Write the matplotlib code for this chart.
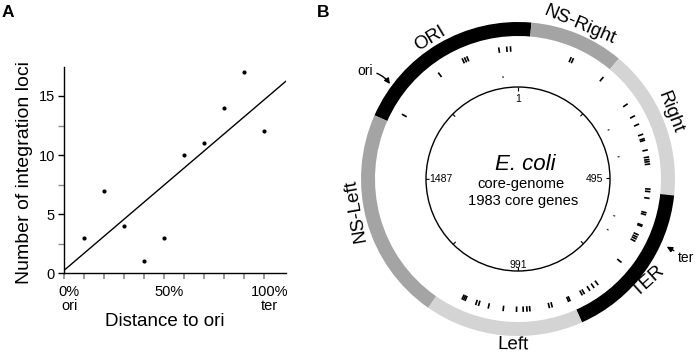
import numpy as np
import matplotlib
matplotlib.use('Agg')
import matplotlib.pyplot as plt
from matplotlib.patches import Wedge, Circle
from matplotlib.collections import LineCollection
from matplotlib.transforms import ScaledTranslation

plt.rcParams['font.family'] = ['Liberation Sans', 'DejaVu Sans']

# ---------------- Panel A data ----------------
distance_pct = [10, 20, 30, 40, 50, 60, 70, 80, 90, 100]
loci_counts = [3, 7, 4, 1, 3, 10, 11, 14, 17, 12]
xtick_vals = [0, 50, 100]
xtick_labels = ['0%\nori', '50%', '100%\nter']
ytick_vals = [0, 5, 10, 15]
ytick_labels = ['0', '5', '10', '15']

# ---------------- Panel B data ----------------
n_core_genes = 1983
region_names = ['ORI', 'NS-Right', 'Right', 'TER', 'Left', 'NS-Left']
region_start = [1620, 28, 221, 530, 860, 1185]
region_end = [2011, 221, 530, 860, 1185, 1620]
region_colors = ['#000000', '#a4a4a4', '#d4d4d4', '#000000', '#d4d4d4', '#a4a4a4']
region_label_gene = [1808, 122, 367, 706, 1002, 1428]
region_label_rot = [31, -23, -69, 42, -1, 100]

locus_genes = [1649, 1781, 1847, 1853, 1859, 1938, 1957, 1966,
               131, 137, 221,
               307, 340, 362, 388, 399, 403, 427, 444, 450, 455, 461, 521, 527,
               543, 578, 583, 609, 612, 634, 640, 645, 651, 711, 788, 800, 812,
               827, 833, 865, 869,
               910, 917, 964, 971, 980, 996, 1028, 1064, 1088, 1095, 1122, 1126, 1130]
inner_dot_genes = [1938, 340, 428, 612, 659]
scale_ticks = [1, 248, 495, 743, 991, 1239, 1487, 1735]
scale_label_genes = [1, 495, 991, 1487]
scale_label_text = ['1', '495', '991', '1487']


def gene_deg(g):
    return (g - 1) / n_core_genes * 360.0


def polar(r, deg):
    a = np.deg2rad(deg)
    return r * np.sin(a), r * np.cos(a)


W, H = 700, 359
fig = plt.figure(figsize=(W / 100, H / 100), dpi=100)

# ---------------- Panel B ----------------
axB = fig.add_axes([0, 0, 1, 1])
cx, cy = 518, 179
axB.set_xlim(-cx, W - cx)
axB.set_ylim(-(H - cy), cy)
axB.axis('off')

R_out, ring_w = 157, 14
for name, s, e, c in zip(region_names, region_start, region_end, region_colors):
    a0, a1 = gene_deg(s), gene_deg(e)
    axB.add_patch(Wedge((0, 0), R_out, 90 - a1, 90 - a0, width=ring_w,
                        facecolor=c, edgecolor='none'))

label_r = [166, 166, 166, 166, 166, 165]
for name, g, rot, r in zip(region_names, region_label_gene, region_label_rot, label_r):
    d = gene_deg(g) % 360
    x, y = polar(r, d)
    axB.text(x, y, name, fontsize=13.5, rotation=rot, rotation_mode='anchor',
             ha='center', va='center')

segs = []
for g in locus_genes:
    d = gene_deg(g)
    segs.append([polar(127.5, d), polar(133, d)])
axB.add_collection(LineCollection(segs, colors='black', linewidths=1.2, capstyle='butt'))

dots = []
for g in inner_dot_genes:
    d = gene_deg(g)
    dots.append([polar(102, d), polar(104, d)])
axB.add_collection(LineCollection(dots, colors='#333333', linewidths=0.9, capstyle='butt'))

R_in = 92
axB.add_patch(Circle((0, 0), R_in, fill=False, lw=1.0, edgecolor='black'))
tk = []
for g in scale_ticks:
    d = gene_deg(g)
    tk.append([polar(R_in, d), polar(R_in - 3.5, d)])
axB.add_collection(LineCollection(tk, colors='black', linewidths=0.8))

lab_r = [80.5, 85, 86.5, 89]
lab_ha = ['center', 'right', 'center', 'left']
for g, t, r, ha in zip(scale_label_genes, scale_label_text, lab_r, lab_ha):
    x, y = polar(r, gene_deg(g))
    axB.text(x, y, t, fontsize=7.5, ha=ha, va='center')

axB.text(7, 15, 'E. coli', fontsize=16, style='italic', ha='center', va='center')
axB.text(3.5, -5, 'core-genome', fontsize=10.6, ha='center', va='center')
axB.text(5, -22, '1983 core genes', fontsize=10.6, ha='center', va='center')

axB.annotate('ori', xy=(-128, 95), xytext=(-153, 108), fontsize=10,
             ha='center', va='center',
             arrowprops=dict(arrowstyle='-|>', lw=1.0, color='black',
                             mutation_scale=8, shrinkA=1, shrinkB=0,
                             connectionstyle='arc3,rad=-0.25'))
axB.annotate('ter', xy=(148.7, -67.7), xytext=(168, -78.5), fontsize=10,
             ha='center', va='center',
             arrowprops=dict(arrowstyle='-|>', lw=1.0, color='black',
                             mutation_scale=8, shrinkA=1, shrinkB=0))

# ---------------- Panel A ----------------
x0, x1, y0, y1 = 64.3, 285.7, 273.3, 67
ax = fig.add_axes([x0 / W, (H - y0) / H, (x1 - x0) / W, (y0 - y1) / H])
ax.patch.set_alpha(0)
ax.set_xlim(0, 110.7)
ax.set_ylim(0, 17.45)
ax.scatter(distance_pct, loci_counts, s=9, color='black', zorder=3, linewidths=0)
fit = np.polyfit(distance_pct, loci_counts, 1)
xs = np.array(ax.get_xlim())
ax.plot(xs, np.polyval(fit, xs), color='black', lw=1.0)

for sp in ['top', 'right']:
    ax.spines[sp].set_visible(False)
for sp in ['left', 'bottom']:
    ax.spines[sp].set_linewidth(1.0)

ax.set_xticks(xtick_vals)
ax.set_xticklabels(xtick_labels, fontsize=10.5, linespacing=1.0)
ax.set_xticks(np.arange(10, 101, 10), minor=True)
ax.set_yticks(ytick_vals)
ax.set_yticklabels(ytick_labels, fontsize=10.5)
ax.set_yticks(np.arange(2.5, 17, 5), minor=True)
ax.tick_params(axis='x', which='both', direction='out', length=4.3, width=1.2,
               color='#8a8a8a', pad=4)
ax.tick_params(axis='y', which='major', direction='out', length=4.3, width=1.0,
               color='black', pad=2.5)
ax.tick_params(axis='y', which='minor', direction='out', length=4.3, width=1.0,
               color='#8a8a8a')
off = ScaledTranslation(5 / 100, 0, fig.dpi_scale_trans)
for t in ax.xaxis.get_major_ticks():
    t.label1.set_transform(t.label1.get_transform() + off)

fig.text(25 / W, 1 - 173 / H, 'Number of integration loci', fontsize=14,
         rotation=90, ha='center', va='center')
fig.text(164.3 / W, 1 - 322 / H, 'Distance to ori', fontsize=13.5,
         ha='center', va='center')

fig.text(2 / W, 1 - 12.5 / H, 'A', fontsize=12.5, fontweight='bold', ha='left', va='center')
fig.text(317 / W, 1 - 12.5 / H, 'B', fontsize=12.5, fontweight='bold', ha='left', va='center')

fig.savefig('out.png', dpi=100)
